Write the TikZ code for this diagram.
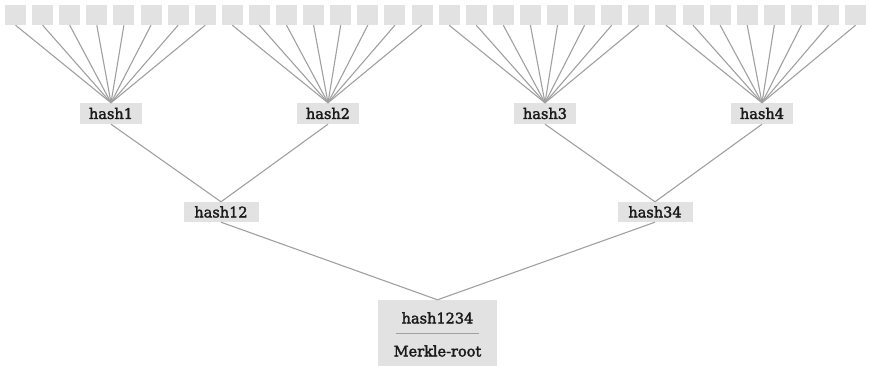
\documentclass[tikz,border=0pt]{standalone}
\usepackage{fontspec}
\setmainfont{DejaVu Serif}[UprightFeatures={FakeBold=2.2}]
\definecolor{boxgray}{HTML}{E2E2E2}
\definecolor{linegray}{HTML}{A0A0A0}
\definecolor{txt}{HTML}{1A1A1A}
\begin{document}
\begin{tikzpicture}[x=1pt,y=-1pt,
  leaf/.style={fill=boxgray,minimum width=21pt,minimum height=20pt,inner sep=0pt},
  lbl/.style={font=\fontsize{14.5}{16}\selectfont,text=txt},
  hashbox/.style={lbl,fill=boxgray,minimum height=21pt,inner sep=0pt},
  conn/.style={draw=linegray,line width=1.1pt}]
\useasboundingbox (0,0) rectangle (869,366);
% leaves
\foreach \k in {0,...,31}{
  \node[leaf] (l\k) at ({15.5+27.1*\k},15) {};
}
\node[hashbox,minimum width=62pt] (h1) at (111,113.5) {hash1};
\node[hashbox,minimum width=62pt] (h2) at (328,113.5) {hash2};
\node[hashbox,minimum width=62pt] (h3) at (545,113.5) {hash3};
\node[hashbox,minimum width=62pt] (h4) at (762,113.5) {hash4};
\node[hashbox,minimum width=75pt,minimum height=20pt] (h12) at (221,212) {hash12};
\node[hashbox,minimum width=75pt,minimum height=20pt] (h34) at (655,212) {hash34};
\node[fill=boxgray,minimum width=119pt,minimum height=66pt,inner sep=0pt] (root) at (437.5,333) {};
\node[lbl,inner sep=0pt] (rt) at (437.5,318) {hash1234};
\node[lbl,inner sep=0pt] (rb) at (437.5,351) {Merkle-root};
\coordinate (sepL) at (396,333);
\coordinate (sepR) at (479,333);
\draw[linegray,line width=0.8pt] (sepL) -- (sepR);
% connectors leaves -> level 1
\foreach \k in {0,...,7}{\draw[conn] (l\k.south) -- (h1.north);}
\foreach \k in {8,...,15}{\draw[conn] (l\k.south) -- (h2.north);}
\foreach \k in {16,...,23}{\draw[conn] (l\k.south) -- (h3.north);}
\foreach \k in {24,...,31}{\draw[conn] (l\k.south) -- (h4.north);}
\draw[conn] (h1.south) -- (h12.north);
\draw[conn] (h2.south) -- (h12.north);
\draw[conn] (h3.south) -- (h34.north);
\draw[conn] (h4.south) -- (h34.north);
\draw[conn] (h12.south) -- (root.north);
\draw[conn] (h34.south) -- (root.north);
\end{tikzpicture}
\end{document}
